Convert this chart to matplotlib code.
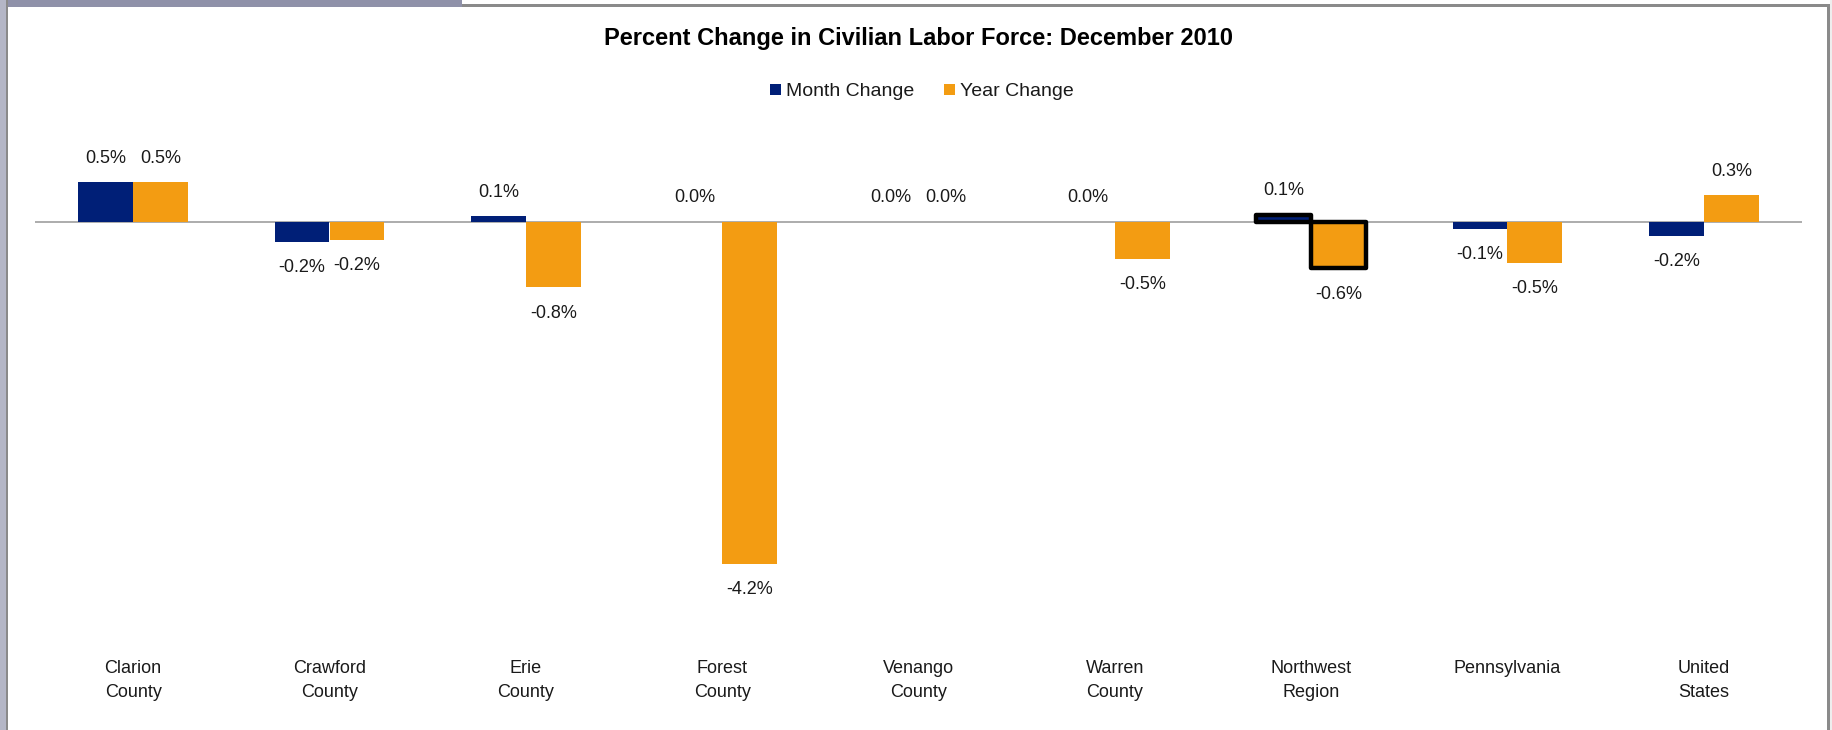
import matplotlib
matplotlib.use("Agg")
import matplotlib.pyplot as plt
from matplotlib.patches import Patch, Rectangle
import numpy as np

# data
categories = ["Clarion\nCounty", "Crawford\nCounty", "Erie\nCounty", "Forest\nCounty",
              "Venango\nCounty", "Warren\nCounty", "Northwest\nRegion", "Pennsylvania",
              "United\nStates"]
month_change = [0.49, -0.24, 0.07, 0.0, 0.0, 0.0, 0.09, -0.08, -0.17]
year_change = [0.49, -0.22, -0.80, -4.20, 0.0, -0.45, -0.57, -0.50, 0.33]
month_labels = ["0.5%", "-0.2%", "0.1%", "0.0%", "0.0%", "0.0%", "0.1%", "-0.1%", "-0.2%"]
year_labels = ["0.5%", "-0.2%", "-0.8%", "-4.2%", "0.0%", "-0.5%", "-0.6%", "-0.5%", "0.3%"]
highlight = "Northwest\nRegion"

NAVY = "#001F77"
ORANGE = "#F39C12"
W, H = 1833, 730

plt.rcParams['font.family'] = ['Liberation Sans', 'DejaVu Sans']

fig = plt.figure(figsize=(W / 100, H / 100), dpi=100)
fig.patch.set_facecolor("white")


def px(x0, y0, x1, y1):
    # pixel box (top-left origin) -> figure fraction rect
    return (x0 / W, 1 - y1 / H, (x1 - x0) / W, (y1 - y0) / H)


# screenshot frame bits
for (x0, y0, x1, y1, c) in [(0, 0, 462, 7, "#8f91a9"), (462, 4, 1830, 7, "#8a8a8a"),
                            (0, 0, 6, H, "#b4b6c6"), (6, 0, 8, H, "#8a8a8a"),
                            (1827, 4, 1830, H, "#8a8a8a"), (1830, 0, W, H, "#eeeeee")]:
    l, b, w, h = px(x0, y0, x1, y1)
    fig.patches.append(Rectangle((l, b), w, h, transform=fig.transFigure,
                                 facecolor=c, edgecolor="none", zorder=0))

# axes placed so zero sits where it does in the reference
top_px, bot_px, zero_px, per_pct = 120, 640, 222, 81.4
l, b, w, h = px(35, top_px, 1802, bot_px)
ax = fig.add_axes([l, b, w, h])
ax.set_xlim(0, len(categories))
ax.set_ylim(-(bot_px - zero_px) / per_pct, (zero_px - top_px) / per_pct)
for s in ax.spines.values():
    s.set_visible(False)
ax.set_yticks([])

x = np.arange(len(categories)) + 0.5
bw = 0.28
edges = ["black" if c == highlight else "none" for c in categories]
lws = [3.2 if c == highlight else 0 for c in categories]
ax.bar(x - bw / 2, month_change, bw, color=NAVY, edgecolor=edges, linewidth=lws,
       joinstyle="round", label="Month Change", zorder=3)
ax.bar(x + bw / 2, year_change, bw, color=ORANGE, edgecolor=edges, linewidth=lws,
       joinstyle="round", label="Year Change", zorder=3)
ax.axhline(0, color="#a6a6a6", linewidth=1.3, zorder=2)

for xs, vals, labs in [(x - bw / 2, month_change, month_labels),
                       (x + bw / 2, year_change, year_labels)]:
    for xi, v, t in zip(xs, vals, labs):
        off = 24 if v >= 0 else -26
        ax.annotate(t, (xi, v), xytext=(0, off), textcoords="offset pixels",
                    ha="center", va="center", fontsize=13, color="#1a1a1a")

ax.set_xticks(x)
ax.set_xticklabels(categories, fontsize=13, linespacing=1.55, color="#1a1a1a")
ax.tick_params(axis="x", length=0, pad=14.5)

fig.text(918 / W, 1 - 38 / H, "Percent Change in Civilian Labor Force: December 2010",
         ha="center", va="center", fontsize=17, fontweight="bold", color="black")

handles = [Patch(facecolor=NAVY, label="Month Change"),
           Patch(facecolor=ORANGE, label="Year Change")]
fig.legend(handles=handles, loc="center", bbox_to_anchor=(922 / W, 1 - 92 / H),
           ncol=2, frameon=False, fontsize=14, handlelength=0.55, handleheight=0.55,
           handletextpad=0.3, columnspacing=1.5, labelcolor="#1a1a1a")

fig.savefig("out.png", dpi=100)
